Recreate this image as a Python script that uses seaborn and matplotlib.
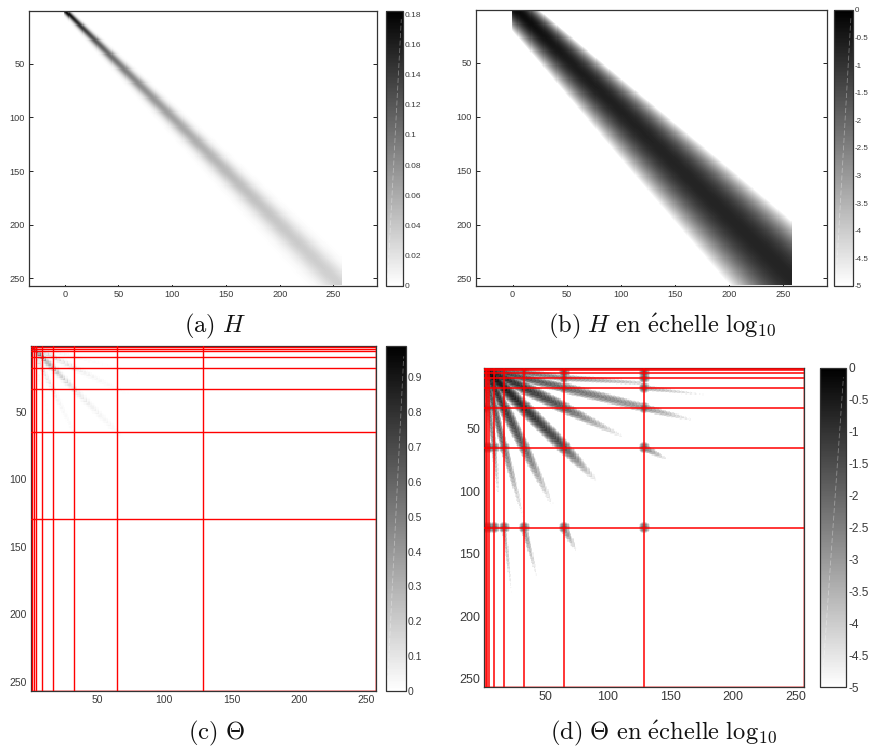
import numpy as np
import matplotlib
matplotlib.use("Agg")
import matplotlib.pyplot as plt
from matplotlib.colors import LinearSegmentedColormap
import seaborn as sns

# ---- values ------------------------------------------------------------
# The cell matrices are not typed out: they are rebuilt from the band and ray
# measurements below, so they approximate the original cell values.

# H, linear panel: band width read at these rows
h_rows = [1, 50, 100, 150, 200, 256]
h_sigma = [2.2, 4.2, 6.0, 8.0, 10.0, 12.0]
# H, log panel: centre offset, centre log10 value, half-width to white
hl_shift = [3.0, 4.0, 5.0, 6.0, 7.0, 8.0]
hl_peak = [-0.2, -0.55, -0.65, -0.7, -0.7, -0.7]
hl_edge = [21, 29, 38, 47, 55, 64]

# Theta: ray segments (column, row at each end; log10 value at each end)
seg_c0 = [1, 33, 65, 3, 33, 65, 2, 17, 33, 65, 129, 5, 65, 129, 2, 17, 33, 9, 65, 129, 2, 9, 17]
seg_r0 = [1, 33, 65, 2, 17, 33, 3, 33, 65, 130, 65, 2, 17, 33, 5, 65, 130, 2, 9, 17, 9, 65, 130]
seg_c1 = [33, 65, 90, 33, 65, 111, 17, 33, 55, 75, 148, 65, 129, 168, 17, 32, 43, 65, 125, 181, 9, 12, 23]
seg_r1 = [33, 65, 91, 17, 33, 56, 33, 65, 110, 148, 75, 17, 33, 43, 65, 120, 168, 9, 13, 23, 65, 100, 183]
seg_v0 = [-0.05, -0.9, -1.5, -0.6, -1.0, -1.7, -0.7, -1.1, -1.8, -2.3, -2.2, -1.1, -2.0, -2.6, -1.3, -2.2, -2.6, -1.9, -2.6, -3.1, -1.9, -2.8, -3.1]
seg_v1 = [-0.9, -1.5, -4.6, -1.0, -1.7, -4.7, -1.1, -1.8, -4.7, -4.8, -4.8, -2.0, -3.0, -4.8, -2.1, -4.8, -4.8, -2.6, -4.0, -5.0, -2.8, -4.6, -4.9]
seg_w = [3.0, 3.2, 3.0, 2.7, 3.0, 2.8, 2.4, 2.8, 2.8, 2.2, 2.2, 2.4, 2.8, 2.4, 2.0, 2.2, 1.9, 2.0, 2.0, 1.9, 1.7, 1.7, 1.5]

# Theta: blobs at the block crossings
node_pos = [2, 5, 9, 17, 33, 65, 129]
node_value = -1.8

# red separators
sep_pos = [2, 3, 5, 9, 17, 33, 65, 129]
border_pos = [1, 257]

ticks_xy = [50, 100, 150, 200, 250]
ticks_h_x = [0, 50, 100, 150, 200, 250]
cb_a = [0, 0.02, 0.04, 0.06, 0.08, 0.1, 0.12, 0.14, 0.16, 0.18]
cb_c = [0, 0.1, 0.2, 0.3, 0.4, 0.5, 0.6, 0.7, 0.8, 0.9]
cb_log = [0, -0.5, -1, -1.5, -2, -2.5, -3, -3.5, -4, -4.5, -5]
captions = [r"$\mathrm{(a)\ }H$",
            r"$\mathrm{(b)\ }H\mathrm{\ en\ \acute{e}chelle\ log_{10}}$",
            r"$\mathrm{(c)\ }\Theta$",
            r"$\mathrm{(d)\ }\Theta\mathrm{\ en\ \acute{e}chelle\ log_{10}}$"]

# ---- build matrices ----------------------------------------------------
sns.set_theme(style="white")
plt.rcParams["font.family"] = ["Liberation Sans", "DejaVu Sans"]
plt.rcParams["mathtext.fontset"] = "cm"
plt.rcParams["axes.unicode_minus"] = False

rows = np.arange(1, 257)
cols = np.arange(0, 258)
cc, rr = np.meshgrid(cols, rows)
sigma = np.interp(rows, h_rows, h_sigma)[:, None]
H = np.exp(-0.5 * ((cc - rr) / sigma) ** 2) / (sigma * np.sqrt(2 * np.pi))
shift = np.interp(rows, h_rows, hl_shift)[:, None]
peak = np.interp(rows, h_rows, hl_peak)[:, None]
edge = np.interp(rows, h_rows, hl_edge)[:, None]
H_log = np.clip(peak - (5 + peak) * ((cc - rr - shift) / edge) ** 2, -5, 0)

t_idx = np.arange(1, 258)
tc, tr = np.meshgrid(t_idx, t_idx)
T_log = np.full(tc.shape, -9.0)
for c0, r0, c1, r1, v0, v1, w in zip(seg_c0, seg_r0, seg_c1, seg_r1, seg_v0, seg_v1, seg_w):
    dx, dy = c1 - c0, r1 - r0
    L = np.hypot(dx, dy)
    s = ((tc - c0) * dx + (tr - r0) * dy) / L
    d = ((tc - c0) * dy - (tr - r0) * dx) / L
    u = np.clip(s / L, 0, 1)
    over = np.maximum(-s, 0) + np.maximum(s - L, 0)
    chevron = 0.35 * np.sin(np.pi * (s + 1.1 * np.abs(d)) / 3.2) ** 2
    val = v0 + (v1 - v0) * u - (d / w) ** 2 - (over / 2.0) ** 2 - chevron * (u > 0.02)
    T_log = np.maximum(T_log, val)
for nc in node_pos:
    for nr in node_pos:
        dist2 = (tc - nc) ** 2 + (tr - nr) ** 2
        T_log = np.maximum(T_log, node_value - dist2 / 7.0)
T_log = np.clip(T_log, -5, 0)
T = np.where(T_log <= -5, 0, 10.0 ** T_log)

# ---- drawing -----------------------------------------------------------
W, H_PX = 869, 753
fig = plt.figure(figsize=(W / 100, H_PX / 100), dpi=100)
gray = LinearSegmentedColormap.from_list("g", ["#ffffff", "#000000"], N=200)
DARK = "#3a3a3a"


def box(l, t, r, b):
    return [l / W, 1 - b / H_PX, (r - l) / W, (b - t) / H_PX]


def panel(data, ax_box, cb_box, vmin, vmax, xlim, ylim, xoff, yoff, xt, cbt, fs, cfs, sep):
    ax = fig.add_axes(box(*ax_box))
    cax = fig.add_axes(box(*cb_box))
    sns.heatmap(data, ax=ax, cbar_ax=cax, cmap=gray, vmin=vmin, vmax=vmax,
                xticklabels=False, yticklabels=False, rasterized=True)
    ax.set_aspect("auto")
    ax.set_xlim(xlim[0] + xoff, xlim[1] + xoff)
    ax.set_ylim(ylim[1] + yoff, ylim[0] + yoff)
    ax.set_xticks([t + xoff for t in xt], [str(t) for t in xt])
    ax.set_yticks([t + yoff for t in ticks_xy], [str(t) for t in ticks_xy])
    ax.tick_params(direction="in", length=3, width=0.7, color="#222222",
                   top=True, right=True, bottom=True, left=True,
                   labelsize=fs, labelcolor=DARK, pad=3)
    for sp in ax.spines.values():
        sp.set_visible(True)
        sp.set_color("#333333")
        sp.set_linewidth(0.9)
    if sep:
        for p in sep_pos:
            ax.axvline(p + xoff, color="#ff0000", lw=sep, zorder=3)
            ax.axhline(p + yoff, color="#ff0000", lw=sep, zorder=3)
        for p in border_pos:
            ax.axvline(p + xoff, color="#ff0000", lw=1.4, alpha=0.35, zorder=2)
            ax.axhline(p + yoff, color="#ff0000", lw=1.4, alpha=0.35, zorder=2)
    cbar = ax.collections[0].colorbar
    cbar.set_ticks(cbt, labels=[f"{t:g}" for t in cbt])
    cax.tick_params(direction="in", length=2.5, width=0.7, color="#222222",
                    left=True, right=True, labelsize=cfs, labelcolor=DARK, pad=1.5)
    cbar.outline.set_visible(True)
    cbar.outline.set_edgecolor("#333333")
    cbar.outline.set_linewidth(0.9)
    cax.plot([0.1, 0.9], [0.03, 0.97], transform=cax.transAxes, color="white",
             lw=0.6, alpha=0.35, zorder=5, ls=(0, (6, 3)))
    return ax


panel(H, (28.7, 11, 377, 286), (386, 11, 403, 286), 0, 0.182, (-33.5, 290.5), (1, 257),
      0.5, -0.5, ticks_h_x, cb_a, 6.6, 6.0, 0)
panel(H_log, (476.3, 10, 827.3, 286), (834.3, 10, 852.7, 286), -5, 0, (-33.5, 290.5), (1, 257),
      0.5, -0.5, ticks_h_x, cb_log, 6.6, 5.8, 0)
panel(T, (31, 346, 375.7, 691), (385.7, 346, 405.7, 691), 0, 0.99, (1, 257), (1, 257),
      -0.5, -0.5, ticks_xy, cb_c, 7.5, 7.5, 1.0)
panel(T_log, (484.3, 367.7, 804.3, 687.3), (820, 367.7, 846, 687.3), -5, 0, (1, 257), (1, 257),
      -0.5, -0.5, ticks_xy, cb_log, 9, 8.6, 1.1)

for cap, x, y in zip(captions, [215, 662.5, 216, 663], [326, 326, 733, 733]):
    fig.text(x / W, 1 - y / H_PX, cap, ha="center", va="center", fontsize=17.7, color="#111111")

fig.savefig("out.png", dpi=100)
